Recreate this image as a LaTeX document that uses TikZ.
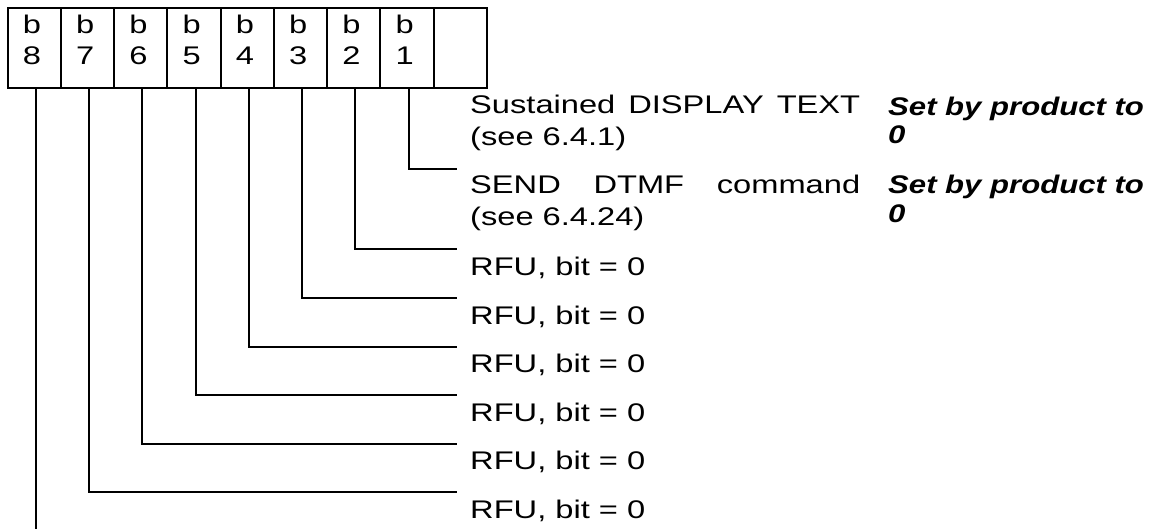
\documentclass[tikz,border=0pt]{standalone}
\usepackage{fontspec}
\setmainfont{Liberation Sans}[FakeStretch=1.28]
\newfontfamily\bifont{Liberation Sans}[FakeStretch=1.22]
\begin{document}
\begin{tikzpicture}[x=1pt,y=-1pt,
  cell/.style={draw, line width=2pt, minimum width=53.25pt, minimum height=80pt, inner sep=0pt, anchor=north west},
  txt/.style={anchor=base west, inner sep=0pt, font=\fontsize{25.5}{28}\selectfont},
  bi/.style={anchor=base west, inner sep=0pt, font=\bifont\fontsize{25.5}{28}\selectfont\bfseries\itshape},
  conn/.style={line width=2pt}]
\useasboundingbox (0,0) rectangle (1160,528);
% bit cells
\foreach \i/\n in {0/8,1/7,2/6,3/5,4/4,5/3,6/2,7/1,8/0}{
  \node[cell] (c\n) at ({6.7+\i*53.25},7) {};
}
\foreach \i/\n in {0/8,1/7,2/6,3/5,4/4,5/3,6/2,7/1}{
  \node[txt] (tb\n) at ({22.7+\i*53.25},33) {b};
  \node[txt] (tn\n) at ({22.7+\i*53.25},64) {\n};
}
% connector ends
\coordinate (e1) at (457,169);
\coordinate (e2) at (457,249);
\coordinate (e3) at (457,298);
\coordinate (e4) at (457,346.5);
\coordinate (e5) at (457,395);
\coordinate (e6) at (457,443.5);
\coordinate (e7) at (457,492);
\foreach \n in {1,...,7}{
  \draw[conn] ([xshift=1.5pt]c\n.south) |- (e\n);
}
\coordinate (e8) at ([xshift=1.5pt]c8.south |- 0,530);
\draw[conn] ([xshift=1.5pt]c8.south) -- (e8);
% labels
\node[txt] (l1a) at (470,113) {\makebox[390pt][s]{Sustained DISPLAY TEXT}};
\node[txt] (l1b) at (470,145) {(see 6.4.1)};
\node[bi] (r1a) at (888,115) {Set by product to};
\node[bi] (r1b) at (888,143) {0};
\node[txt] (l2a) at (470,193) {\makebox[390pt][s]{SEND DTMF command}};
\node[txt] (l2b) at (470,225) {(see 6.4.24)};
\node[bi] (r2a) at (888,193) {Set by product to};
\node[bi] (r2b) at (888,222) {0};
\node[txt] (l3) at (470,275) {RFU, bit = 0};
\node[txt] (l4) at (470,324) {RFU, bit = 0};
\node[txt] (l5) at (470,372) {RFU, bit = 0};
\node[txt] (l6) at (470,421) {RFU, bit = 0};
\node[txt] (l7) at (470,469) {RFU, bit = 0};
\node[txt] (l8) at (470,518) {RFU, bit = 0};
\end{tikzpicture}
\end{document}
